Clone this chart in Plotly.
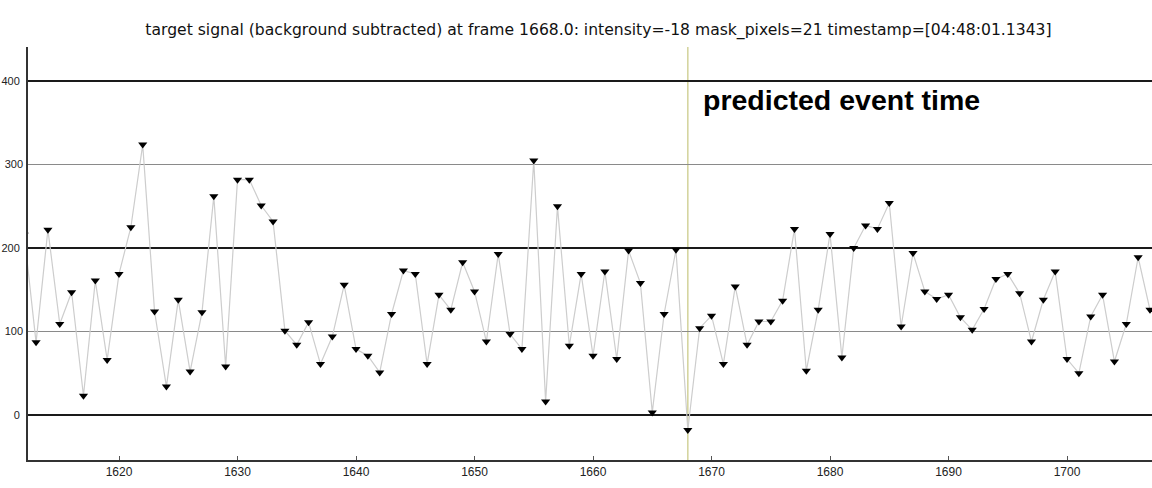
import plotly.graph_objects as go

frames = list(range(1612, 1708))
intensity = [
    216, 87, 222, 109, 147, 23, 161, 66, 169, 225,   # 1612-1621
    324, 124, 34, 138, 52, 123, 262, 58, 282, 282,   # 1622-1631
    251, 232, 101, 84, 111, 61, 94, 156, 79, 71,     # 1632-1641
    51, 121, 173, 169, 61, 144, 126, 183, 148, 88,   # 1642-1651
    193, 97, 79, 305, 16, 250, 83, 169, 71, 172,     # 1652-1661
    67, 197, 158, 3, 121, 198, -18, 104, 119, 61,    # 1662-1671
    154, 84, 112, 112, 137, 223, 53, 126, 217, 69,   # 1672-1681
    200, 227, 223, 254, 106, 194, 148, 139, 144, 117,  # 1682-1691
    102, 127, 163, 169, 146, 88, 138, 172, 67, 50,   # 1692-1701
    118, 144, 64, 109, 189, 126                      # 1702-1707
]
event_frame = 1668
minor_labels = [100, 300]
title_text = ("target signal (background subtracted) at frame 1668.0: intensity=-18 "
              "mask_pixels=21 timestamp=[04:48:01.1343]")
annotation_text = "predicted event time"

Y_RANGE = [-54, 441]
TICK_FONT_Y = dict(family="Liberation Sans, Arial, sans-serif", size=11, color="#222222")
TICK_FONT_X = dict(family="Liberation Sans, Arial, sans-serif", size=12, color="#222222")

fig = go.Figure()
fig.add_trace(go.Scatter(
    x=frames, y=intensity, mode="lines+markers",
    line=dict(color="#cdcdcd", width=1.2),
    marker=dict(symbol="triangle-down", size=8, color="#000000"),
    showlegend=False, cliponaxis=True,
))

fig.add_vline(x=event_frame, line=dict(color="#d2d29a", width=1.5), layer="below")
fig.add_annotation(
    x=event_frame, y=1, xref="x", yref="paper", xanchor="left", yanchor="top",
    xshift=13, yshift=-35, text="<b>" + annotation_text + "</b>", showarrow=False,
    font=dict(family="Liberation Sans, Arial, sans-serif", size=28.5, color="#000000"),
)

fig.update_layout(
    width=1152, height=488,
    margin=dict(l=28, r=0, t=47, b=28),
    paper_bgcolor="white", plot_bgcolor="white",
    title=dict(text=title_text, xref="container", x=0.5195, xanchor="center",
               yref="container", y=0.9385, yanchor="middle",
               font=dict(family="DejaVu Sans, Verdana, sans-serif", size=15.6, color="#111111")),
    yaxis2=dict(overlaying="y", side="left", range=Y_RANGE, tickvals=minor_labels,
                showgrid=False, zeroline=False, showline=False, ticks="", automargin=False,
                tickfont=TICK_FONT_Y, ticklabelstandoff=4),
)
fig.update_xaxes(
    range=[1612.32, 1707.17], dtick=10, tick0=1620, showgrid=False, zeroline=False,
    showline=True, linecolor="#333333", linewidth=2, automargin=False,
    ticks="inside", ticklen=4, tickcolor="#555555", tickfont=TICK_FONT_X,
)
fig.layout.yaxis.update(range=Y_RANGE, dtick=200, tick0=0, showgrid=True, gridcolor="#1a1a1a",
                        gridwidth=1.5, zeroline=False, showline=True, linecolor="#333333",
                        linewidth=2, ticks="", automargin=False, tickfont=TICK_FONT_Y,
                        ticklabelstandoff=4,
                        minor=dict(dtick=100, tick0=0, showgrid=True, gridcolor="#8a8a8a", gridwidth=1))
# an invisible trace so the overlay axis (labels 100 and 300) is rendered
fig.add_trace(go.Scatter(x=[frames[0]], y=[intensity[0]], yaxis="y2", mode="markers",
                         marker=dict(opacity=0), showlegend=False, hoverinfo="skip"))

# remove the default 8px page margin so the figure fills the window exactly
fig.write_html("out.html", config={"displayModeBar": False},
               post_script="document.body.style.margin='0';")
